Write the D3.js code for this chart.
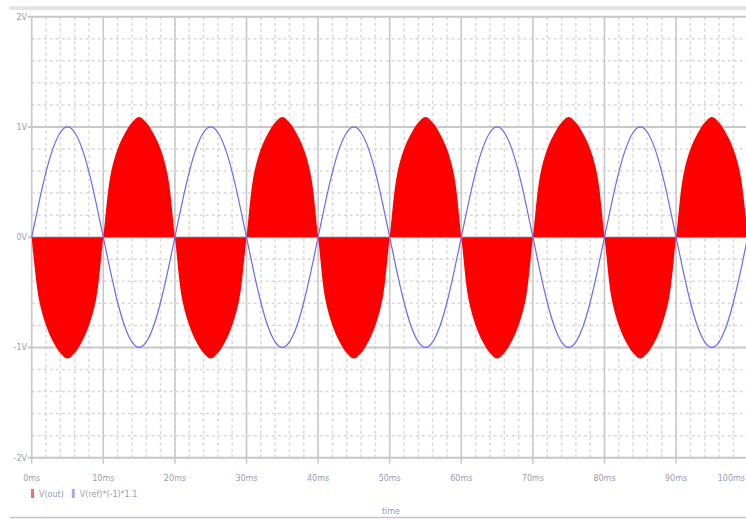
<!DOCTYPE html>
<html>
<head>
<meta charset="utf-8">
<style>
  body { margin: 0; background: #fff; }
  svg { display: block; }
  .lbl { font-family: "DejaVu Sans", sans-serif; font-size: 8px; fill: #9a9ab0; }
</style>
<script src="https://d3js.org/d3.v7.min.js"></script>
</head>
<body>
<svg id="chart" width="746" height="519"></svg>
<script>
// time in ms, one sample every 1 ms
const times = d3.range(0, 101);

// blue trace (reference sine), volts
const blueValues = [
  0, .31, .59, .81, .95, 1, .95, .81, .59, .31, 0, -.31, -.59, -.81, -.95, -1, -.95, -.81, -.59, -.31,
  0, .31, .59, .81, .95, 1, .95, .81, .59, .31, 0, -.31, -.59, -.81, -.95, -1, -.95, -.81, -.59, -.31,
  0, .31, .59, .81, .95, 1, .95, .81, .59, .31, 0, -.31, -.59, -.81, -.95, -1, -.95, -.81, -.59, -.31,
  0, .31, .59, .81, .95, 1, .95, .81, .59, .31, 0, -.31, -.59, -.81, -.95, -1, -.95, -.81, -.59, -.31,
  0, .31, .59, .81, .95, 1, .95, .81, .59, .31, 0, -.31, -.59, -.81, -.95, -1, -.95, -.81, -.59, -.31,
  0
];

// red trace (PWM output envelope), volts
const redValues = [
  0, -.56, -.8, -.95, -1.05, -1.1, -1.05, -.95, -.8, -.56,
  0, .56, .8, .94, 1.04, 1.09, 1.04, .94, .8, .56,
  0, -.56, -.8, -.95, -1.05, -1.1, -1.05, -.95, -.8, -.56,
  0, .56, .8, .94, 1.04, 1.09, 1.04, .94, .8, .56,
  0, -.56, -.8, -.95, -1.05, -1.1, -1.05, -.95, -.8, -.56,
  0, .56, .8, .94, 1.04, 1.09, 1.04, .94, .8, .56,
  0, -.56, -.8, -.95, -1.05, -1.1, -1.05, -.95, -.8, -.56,
  0, .56, .8, .94, 1.04, 1.09, 1.04, .94, .8, .56,
  0, -.56, -.8, -.95, -1.05, -1.1, -1.05, -.95, -.8, -.56,
  0, .56, .8, .94, 1.04, 1.09, 1.04, .94, .8, .56,
  0
];

const yTicks = [2, 1, 0, -1, -2];
const yTickLabels = ["2V", "1V", "0V", "-1V", "-2V"];
const xTicks = [0, 10, 20, 30, 40, 50, 60, 70, 80, 90, 100];
const xTickLabels = ["0ms", "10ms", "20ms", "30ms", "40ms", "50ms", "60ms", "70ms", "80ms", "90ms", "100ms"];
const legendNames = ["V(out)", "V(ref)*(-1)*1.1"];
const legendColors = ["#ff0000", "#6a6af5"];

const svg = d3.select("#chart");
const x = d3.scaleLinear().domain([0, 100]).range([31.7, 747.7]);
const y = d3.scaleLinear().domain([-2, 2]).range([457.7, 16.7]);

// window frame lines
svg.append("rect").attr("x", 10).attr("y", 6).attr("width", 736).attr("height", 4).attr("fill", "#e4e4e4");
svg.append("line").attr("x1", 10).attr("x2", 746).attr("y1", 517.5).attr("y2", 517.5)
  .attr("stroke", "#c4c4c4").attr("stroke-width", 1.5);

// minor grid
const g = svg.append("g");
for (let v = -2; v <= 2.001; v += 0.2) {
  g.append("line").attr("x1", x(0)).attr("x2", x(100)).attr("y1", y(v)).attr("y2", y(v))
    .attr("stroke", "#d8d8d8").attr("stroke-width", 1.5).attr("stroke-dasharray", "3,3");
}
for (let t = 0; t <= 100.001; t += 2) {
  g.append("line").attr("x1", x(t)).attr("x2", x(t)).attr("y1", y(2)).attr("y2", y(-2))
    .attr("stroke", "#d8d8d8").attr("stroke-width", 1.5).attr("stroke-dasharray", "3,3");
}
// major grid
yTicks.forEach(v => {
  g.append("line").attr("x1", x(0) - 4).attr("x2", x(100)).attr("y1", y(v)).attr("y2", y(v))
    .attr("stroke", "#c8c8c8").attr("stroke-width", 2);
});
xTicks.forEach(t => {
  g.append("line").attr("x1", x(t)).attr("x2", x(t)).attr("y1", y(2)).attr("y2", y(-2) + 6)
    .attr("stroke", "#c8c8c8").attr("stroke-width", 1.5);
});

// tick labels
yTicks.forEach((v, i) => {
  svg.append("text").attr("class", "lbl").attr("x", 27).attr("y", y(v) + 3)
    .attr("text-anchor", "end").text(yTickLabels[i]);
});
xTicks.forEach((t, i) => {
  const last = i === xTicks.length - 1;
  svg.append("text").attr("class", "lbl").attr("x", last ? 745 : x(t)).attr("y", 481)
    .attr("text-anchor", last ? "end" : "middle").text(xTickLabels[i]);
});
svg.append("text").attr("class", "lbl").attr("x", 391).attr("y", 514)
  .attr("text-anchor", "middle").text("time");

// red PWM area
const redData = times.map((t, i) => ({ t, v: redValues[i] }));
svg.append("path").datum(redData)
  .attr("fill", "#ff0000")
  .attr("d", d3.area().x(d => x(d.t)).y0(y(0)).y1(d => y(d.v)).curve(d3.curveCatmullRom));

// blue sine
const blueData = times.map((t, i) => ({ t, v: blueValues[i] }));
svg.append("path").datum(blueData)
  .attr("fill", "none").attr("stroke", legendColors[1]).attr("stroke-width", 1.2)
  .attr("d", d3.line().x(d => x(d.t)).y(d => y(d.v)).curve(d3.curveNatural));

// legend
let lx = 31;
legendNames.forEach((name, i) => {
  svg.append("rect").attr("x", lx).attr("y", 489).attr("width", 3).attr("height", 9)
    .attr("fill", legendColors[i]).attr("opacity", 0.6);
  const txt = svg.append("text").attr("class", "lbl").attr("x", lx + 8).attr("y", 497).text(name);
  lx += 8 + txt.node().getComputedTextLength() + 8;
});
</script>
</body>
</html>
